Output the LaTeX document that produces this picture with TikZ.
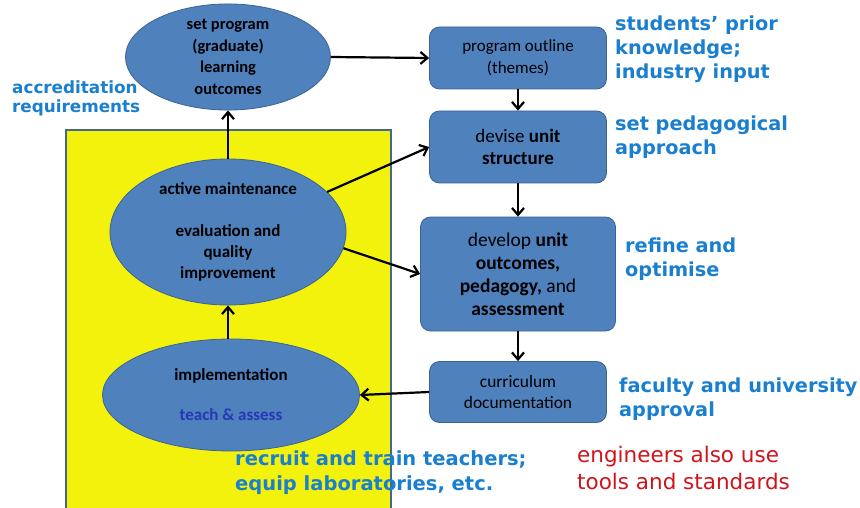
\documentclass[tikz,border=0pt]{standalone}
\usepackage{fontspec}
\setmainfont{Carlito}
\newfontfamily\notefont{DejaVu Sans}
\newfontfamily\handfont{DejaVu Sans}
\usetikzlibrary{arrows.meta,shapes.geometric}

\definecolor{boxblue}{HTML}{4F81BD}
\definecolor{boxedge}{HTML}{3B6494}
\definecolor{notecol}{HTML}{1A7FCF}
\definecolor{padyellow}{HTML}{F2F20C}
\definecolor{handred}{HTML}{D0141C}
\definecolor{teachblue}{HTML}{2438B8}

\tikzset{
  oval/.style={ellipse, draw=boxedge, fill=boxblue, line width=0.8pt, align=center, inner sep=0pt},
  stage/.style={rectangle, rounded corners=10pt, draw=boxedge, fill=boxblue, line width=0.8pt, align=center, inner sep=0pt},
  note/.style={anchor=north west, align=left, inner sep=0pt, text=notecol, font=\notefont\bfseries\fontsize{19.3}{24}\selectfont},
  flow/.style={-{Straight Barb[length=7pt,width=12pt]}, line width=2.2pt},
}

\begin{document}
\begin{tikzpicture}[x=1pt,y=-1pt]
        \useasboundingbox (0,0) rectangle (860,508);
        \fill[white] (0,0) rectangle (860,508);

        % the teaching side
        \draw[draw=boxedge!85!gray, fill=padyellow, line width=1.3pt] (66,130) rectangle (391,520);

        \node[oval, minimum width=205pt, minimum height=90pt, font=\bfseries\fontsize{16.5}{21.5}\selectfont] (goals) at (228,57) {set program\\(graduate)\\learning\\outcomes};
        \node[oval, minimum width=236pt, minimum height=146pt, font=\bfseries\fontsize{17}{21}\selectfont] (review) at (228,232) {active maintenance\\[21pt]evaluation and\\quality\\improvement};
        \node[oval, minimum width=257pt, minimum height=112pt, font=\bfseries\fontsize{17}{20}\selectfont] (implement) at (231,395) {implementation\\[20pt]{\color{teachblue}teach \& assess}};

        \node[stage, minimum width=177pt, minimum height=62pt, font=\fontsize{17}{22}\selectfont] (outline) at (518,58) {program outline\\(themes)};
        \node[stage, minimum width=177pt, minimum height=72pt, font=\fontsize{19}{22}\selectfont] (devise) at (518,147) {devise \textbf{unit}\\\textbf{structure}};
        \node[stage, minimum width=195pt, minimum height=114pt, font=\fontsize{19.5}{23}\selectfont] (develop) at (518,274) {develop \textbf{unit}\\\textbf{outcomes,}\\\textbf{pedagogy,} and\\\textbf{assessment}};
        \node[stage, minimum width=177pt, minimum height=61pt, font=\fontsize{17.4}{21}\selectfont] (docs) at (518,392) {curriculum\\documentation};

        \draw[flow] (goals.east) -- (outline.west);
        \draw[flow] (outline) -- (devise);
        \draw[flow] (devise) -- (develop);
        \draw[flow] (develop) -- (docs);
        \draw[flow] (docs.west) -- (implement.east);
        \draw[flow] (review.south |- implement.north) -- (review.south);
        \draw[flow] (review) -- (goals);
        \draw[flow] (review.22) -- (devise.west);
        \draw[flow] (review.-8) -- (develop.west);

        % side notes
        \node[note, font=\notefont\bfseries\fontsize{16.8}{19}\selectfont] (accred) at (12,81) {accreditation\\requirements};
        \node[note] (prior) at (615,16) {students’ prior\\knowledge;\\industry input};
        \node[note] (pedag) at (615,116) {set pedagogical\\approach};
        \node[note] (refine) at (625,238) {refine and\\optimise};
        \node[note] (approve) at (619,378) {faculty and university\\approval};
        \node[note, font=\notefont\bfseries\fontsize{19.5}{25}\selectfont] (recruit) at (235,450) {recruit and train teachers;\\equip laboratories, etc.};
        \node[anchor=north west, align=left, inner sep=0pt, text=handred, font=\handfont\fontsize{21.5}{27}\selectfont] (tools) at (577,446) {engineers also use\\tools and standards};
    \end{tikzpicture}
\end{document}
